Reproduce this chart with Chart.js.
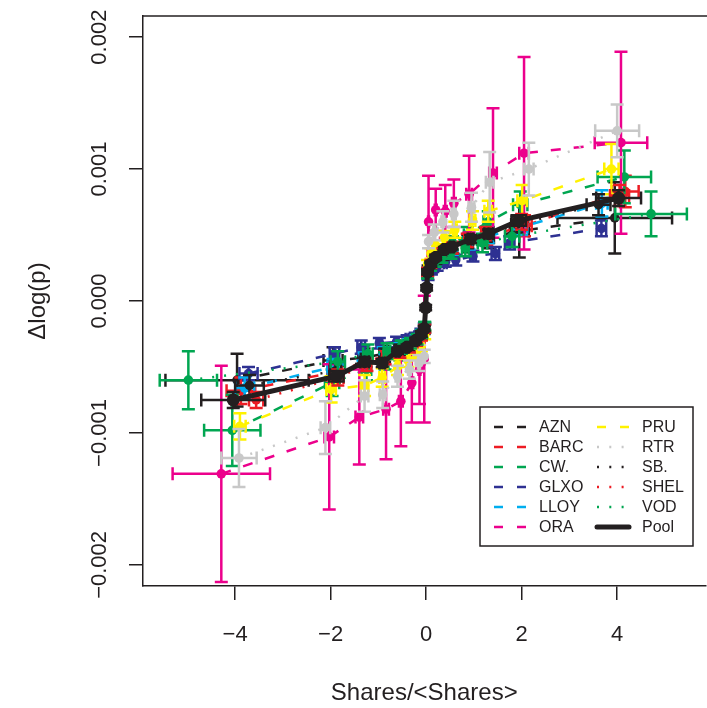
<!DOCTYPE html>
<html>
<head>
<meta charset="utf-8">
<script src="https://cdn.jsdelivr.net/npm/chart.js@4.4.0/dist/chart.umd.min.js"></script>
<style>
  html, body { margin: 0; padding: 0; background: #fff; overflow: hidden; }
  /* plot box runs past the right edge of the window, as in the cropped original */
  #chart { display: block; }
</style>
</head>
<body>
<canvas id="chart" width="712" height="708"></canvas>
<script>
// values: x = Shares/<Shares>, y = dlog(p), xe/ye = half error bars
const AZN_x  = [-3.96,-1.95,-1.3,-0.9,-0.58,-0.38,-0.22,-0.11,-0.04,0.04,0.11,0.22,0.38,0.58,0.9,1.3,1.95,3.95];
const AZN_y  = [-0.0006,-0.00045,-0.00043,-0.0004,-0.00036,-0.00033,-0.0003,-0.00026,-0.00022,0.00024,0.00028,0.00031,0.00035,0.00038,0.00043,0.00048,0.00053,0.00063];
const AZN_xe = [1.5,0.2,0.12,0.08,0.05,0.04,0.03,0.02,0.01,0.01,0.02,0.03,0.04,0.05,0.08,0.12,0.2,1.2];
const AZN_ye = [0.0002,0.0001,0.00007,0.00006,0.00005,0.00004,0.00004,0.00003,0.00003,0.00003,0.00003,0.00004,0.00004,0.00005,0.00006,0.00008,0.0002,0.00027];

const BARC_x  = [-3.88,-1.92,-1.27,-0.88,-0.56,-0.36,-0.21,-0.1,-0.03,0.03,0.1,0.21,0.36,0.56,0.88,1.27,2.06,4.17];
const BARC_y  = [-0.00068,-0.00054,-0.00046,-0.00042,-0.00038,-0.00034,-0.0003,-0.00026,-0.0002,0.00021,0.00027,0.00032,0.00036,0.0004,0.00045,0.00049,0.00057,0.00083];
const BARC_xe = [0.3,0.15,0.1,0.07,0.05,0.04,0.03,0.02,0.01,0.01,0.02,0.03,0.04,0.05,0.07,0.1,0.15,0.28];
const BARC_ye = [0.0001,0.00008,0.00007,0.00006,0.00005,0.00004,0.00004,0.00003,0.00003,0.00003,0.00003,0.00004,0.00004,0.00005,0.00006,0.00007,0.00008,0.00012];

const CW_x  = [-4.06,-1.97,-1.25,-0.86,-0.55,-0.35,-0.2,-0.1,-0.03,0.03,0.1,0.2,0.35,0.55,0.86,1.3,1.97,4.15];
const CW_y  = [-0.00098,-0.00062,-0.00052,-0.00046,-0.0004,-0.00035,-0.0003,-0.00025,-0.00019,0.0002,0.00027,0.00033,0.00038,0.00044,0.0005,0.0006,0.00073,0.00094];
const CW_xe = [0.59,0.15,0.1,0.07,0.05,0.04,0.03,0.02,0.01,0.01,0.02,0.03,0.04,0.05,0.07,0.1,0.15,0.56];
const CW_ye = [0.00027,0.0001,0.00008,0.00006,0.00005,0.00004,0.00004,0.00003,0.00003,0.00003,0.00003,0.00004,0.00004,0.00005,0.00006,0.00008,0.0001,0.0002];

const GLXO_x  = [-3.72,-1.92,-1.36,-0.98,-0.62,-0.4,-0.23,-0.11,-0.04,0.04,0.11,0.23,0.4,0.62,0.98,1.45,1.75,3.67];
const GLXO_y  = [-0.00055,-0.0004,-0.00035,-0.00032,-0.00031,-0.00029,-0.00027,-0.00024,-0.0002,0.00019,0.00023,0.00026,0.00029,0.00031,0.00034,0.00036,0.00044,0.00055];
const GLXO_xe = [0.19,0.1,0.08,0.06,0.04,0.03,0.02,0.01,0.01,0.01,0.01,0.02,0.03,0.04,0.06,0.08,0.1,0.1];
const GLXO_ye = [0.00005,0.00005,0.00005,0.00004,0.00004,0.00003,0.00003,0.00003,0.00003,0.00003,0.00003,0.00003,0.00003,0.00004,0.00004,0.00005,0.00005,0.00006];

const LLOY_x  = [-3.8,-1.95,-1.3,-0.9,-0.57,-0.37,-0.21,-0.1,-0.03,0.03,0.1,0.21,0.37,0.57,0.9,1.3,2.0,3.68];
const LLOY_y  = [-0.00066,-0.0005,-0.00044,-0.0004,-0.00036,-0.00033,-0.00029,-0.00025,-0.0002,0.00022,0.00027,0.00031,0.00035,0.00039,0.00044,0.00049,0.00056,0.00074];
const LLOY_xe = [0.2,0.12,0.09,0.06,0.04,0.03,0.02,0.01,0.01,0.01,0.01,0.02,0.03,0.04,0.06,0.09,0.12,0.12];
const LLOY_ye = [0.00008,0.00006,0.00005,0.00005,0.00004,0.00004,0.00003,0.00003,0.00003,0.00003,0.00003,0.00003,0.00004,0.00004,0.00005,0.00005,0.00006,0.0001];

const ORA_x  = [-4.29,-2.03,-1.4,-0.84,-0.53,-0.3,-0.14,-0.04,0.05,0.2,0.4,0.58,0.9,1.4,2.05,4.08];
const ORA_y  = [-0.00131,-0.00103,-0.00088,-0.00082,-0.00076,-0.00062,-0.00052,-0.00044,0.0006,0.00069,0.00068,0.00074,0.00081,0.00097,0.00112,0.0012];
const ORA_xe = [1.02,0.1,0.08,0.06,0.04,0.03,0.02,0.01,0.01,0.02,0.03,0.04,0.06,0.08,0.1,0.55];
const ORA_ye = [0.00082,0.00055,0.00036,0.00038,0.00034,0.0003,0.00026,0.00048,0.00035,0.00016,0.0002,0.00018,0.00029,0.00049,0.00073,0.00069];

const PRU_x  = [-3.9,-1.99,-1.29,-0.92,-0.6,-0.38,-0.2,-0.1,-0.03,0.03,0.1,0.2,0.38,0.6,0.97,1.3,2.01,3.88];
const PRU_y  = [-0.00095,-0.00067,-0.00064,-0.00058,-0.0005,-0.00045,-0.0004,-0.00034,-0.00026,0.00028,0.00036,0.00042,0.00048,0.00054,0.00061,0.00068,0.00076,0.001];
const PRU_xe = [0.12,0.1,0.08,0.06,0.04,0.03,0.02,0.01,0.01,0.01,0.01,0.02,0.03,0.04,0.06,0.08,0.1,0.15];
const PRU_ye = [0.0001,0.0001,0.00008,0.00007,0.00006,0.00005,0.00004,0.00004,0.00003,0.00003,0.00004,0.00004,0.00005,0.00006,0.00007,0.00008,0.00012,0.00019];

const RTR_x  = [-3.92,-2.11,-1.29,-0.91,-0.6,-0.35,-0.15,-0.04,0.05,0.17,0.35,0.58,0.95,1.33,2.15,4.0];
const RTR_y  = [-0.00119,-0.00096,-0.00072,-0.00071,-0.00057,-0.00052,-0.00047,-0.00042,0.00045,0.00052,0.0006,0.00066,0.00071,0.0009,0.001,0.00129];
const RTR_xe = [0.37,0.1,0.08,0.06,0.04,0.03,0.02,0.01,0.01,0.02,0.03,0.04,0.06,0.08,0.1,0.46];
const RTR_ye = [0.00022,0.0002,0.00012,0.0001,0.00008,0.00007,0.00006,0.00005,0.00005,0.00006,0.00008,0.0001,0.00011,0.00023,0.0002,0.0002];

const SB_x  = [-3.7,-1.9,-1.26,-0.87,-0.56,-0.36,-0.21,-0.1,-0.03,0.03,0.1,0.21,0.36,0.56,0.87,1.26,1.9,3.61];
const SB_y  = [-0.00064,-0.00053,-0.00045,-0.00041,-0.00037,-0.00034,-0.0003,-0.00026,-0.00021,0.00022,0.00027,0.00031,0.00035,0.0004,0.00045,0.0005,0.00058,0.00073];
const SB_xe = [0.3,0.12,0.09,0.06,0.04,0.03,0.02,0.01,0.01,0.01,0.01,0.02,0.03,0.04,0.06,0.09,0.12,0.25];
const SB_ye = [0.00008,0.00006,0.00005,0.00005,0.00004,0.00004,0.00003,0.00003,0.00003,0.00003,0.00003,0.00003,0.00004,0.00004,0.00005,0.00005,0.00006,0.00008];

const SHEL_x  = [-3.56,-1.85,-1.24,-0.86,-0.55,-0.35,-0.2,-0.1,-0.03,0.03,0.1,0.2,0.35,0.55,0.86,1.24,2.0,4.05];
const SHEL_y  = [-0.00075,-0.00058,-0.00048,-0.00043,-0.00039,-0.00035,-0.00031,-0.00027,-0.00021,0.00022,0.00028,0.00032,0.00036,0.0004,0.00046,0.00051,0.0006,0.0008];
const SHEL_xe = [0.15,0.12,0.09,0.06,0.04,0.03,0.02,0.01,0.01,0.01,0.01,0.02,0.03,0.04,0.06,0.09,0.12,0.2];
const SHEL_ye = [0.00006,0.00006,0.00005,0.00005,0.00004,0.00004,0.00003,0.00003,0.00003,0.00003,0.00003,0.00003,0.00004,0.00004,0.00005,0.00005,0.00006,0.00008];

const VOD_x  = [-4.98,-1.85,-1.22,-0.82,-0.52,-0.33,-0.19,-0.09,-0.03,0.03,0.09,0.19,0.33,0.52,0.82,1.18,1.8,4.71];
const VOD_y  = [-0.0006,-0.00046,-0.0004,-0.00038,-0.00035,-0.00032,-0.00029,-0.00025,-0.00019,0.0002,0.00026,0.0003,0.00033,0.00037,0.0004,0.00044,0.00049,0.00066];
const VOD_xe = [0.6,0.15,0.1,0.07,0.05,0.04,0.03,0.02,0.01,0.01,0.02,0.03,0.04,0.05,0.07,0.1,0.15,0.75];
const VOD_ye = [0.00022,0.00008,0.00007,0.00006,0.00005,0.00004,0.00004,0.00003,0.00003,0.00003,0.00003,0.00004,0.00004,0.00005,0.00006,0.00007,0.00008,0.00017];

const Pool_x  = [-4.04,-1.88,-1.29,-0.92,-0.6,-0.4,-0.22,-0.1,-0.04,-0.01,0.01,0.03,0.1,0.2,0.38,0.54,0.93,1.31,1.94,4.03];
const Pool_y  = [-0.00075,-0.00057,-0.00046,-0.00047,-0.00038,-0.00035,-0.0003,-0.00025,-0.00021,-0.00005,0.0001,0.00022,0.00028,0.00033,0.00039,0.00041,0.00047,0.00051,0.00061,0.00078];
const Pool_xe = [0.67,0.15,0.09,0.06,0.04,0.03,0.02,0.01,0.01,0.005,0.005,0.01,0.01,0.02,0.03,0.04,0.06,0.09,0.15,0.47];
const Pool_ye = [0.00006,0.00004,0.00003,0.00003,0.00002,0.00002,0.00002,0.00002,0.00002,0.00002,0.00002,0.00002,0.00002,0.00002,0.00002,0.00002,0.00003,0.00003,0.00004,0.00006];

const seriesNames = ['AZN', 'BARC', 'CW.', 'GLXO', 'LLOY', 'ORA', 'PRU', 'RTR', 'SB.', 'SHEL', 'VOD', 'Pool'];
const seriesData = [
  [AZN_x, AZN_y, AZN_xe, AZN_ye],
  [BARC_x, BARC_y, BARC_xe, BARC_ye],
  [CW_x, CW_y, CW_xe, CW_ye],
  [GLXO_x, GLXO_y, GLXO_xe, GLXO_ye],
  [LLOY_x, LLOY_y, LLOY_xe, LLOY_ye],
  [ORA_x, ORA_y, ORA_xe, ORA_ye],
  [PRU_x, PRU_y, PRU_xe, PRU_ye],
  [RTR_x, RTR_y, RTR_xe, RTR_ye],
  [SB_x, SB_y, SB_xe, SB_ye],
  [SHEL_x, SHEL_y, SHEL_xe, SHEL_ye],
  [VOD_x, VOD_y, VOD_xe, VOD_ye],
  [Pool_x, Pool_y, Pool_xe, Pool_ye]
];
const xTicks = [-4, -2, 0, 2, 4];
const yTicks = [-0.002, -0.001, 0, 0.001, 0.002];
const yTickLabels = ['\u22120.002', '\u22120.001', '0.000', '0.001', '0.002'];

// styles
const seriesColor = ['#231F20', '#ED1C24', '#00A651', '#2E3192', '#00AEEF', '#EC008C',
                     '#FFF200', '#C8C8C8', '#231F20', '#ED1C24', '#00A651', '#231F20'];
const seriesLty = ['dash', 'dash', 'dash', 'dash', 'dash', 'dash',
                   'dash', 'dot', 'dot', 'dot', 'dot', 'solid'];
const DASH = [10, 13];
const DOT = [2, 10];
const INK = '#231F20';
const FONT = "'Liberation Sans', Arial, Helvetica, sans-serif";

Chart.defaults.font.family = FONT;

const datasets = seriesData.map((s, i) => {
  const pool = seriesNames[i] === 'Pool';
  return {
    label: seriesNames[i],
    data: s[0].map((x, k) => ({ x: x, y: s[1][k], xe: s[2][k], ye: s[3][k] })),
    showLine: true,
    borderColor: seriesColor[i],
    backgroundColor: seriesColor[i],
    borderWidth: pool ? 5 : 2.5,
    borderDash: seriesLty[i] === 'dash' ? DASH : seriesLty[i] === 'dot' ? DOT : [],
    pointRadius: pool ? 6.5 : 4.8,
    pointBorderWidth: 0,
    pointBackgroundColor: seriesColor[i],
    order: seriesNames.length - i
  };
});

// error bars with flat caps, drawn under each series' points
const errorBars = {
  id: 'errorBars',
  beforeDatasetDraw(chart, args) {
    const ds = chart.data.datasets[args.index];
    const { ctx, chartArea: a, scales: { x, y } } = chart;
    const cap = 6.5;
    ctx.save();
    ctx.beginPath();
    ctx.rect(a.left, a.top, a.right - a.left, a.bottom - a.top);
    ctx.clip();
    ctx.strokeStyle = ds.borderColor;
    ctx.lineWidth = 2.5;
    ctx.setLineDash([]);
    ctx.beginPath();
    ds.data.forEach(p => {
      const px = x.getPixelForValue(p.x), py = y.getPixelForValue(p.y);
      const xl = x.getPixelForValue(p.x - p.xe), xr = x.getPixelForValue(p.x + p.xe);
      const yb = y.getPixelForValue(p.y - p.ye), yt = y.getPixelForValue(p.y + p.ye);
      ctx.moveTo(xl, py); ctx.lineTo(xr, py);
      ctx.moveTo(xl, py - cap); ctx.lineTo(xl, py + cap);
      ctx.moveTo(xr, py - cap); ctx.lineTo(xr, py + cap);
      ctx.moveTo(px, yb); ctx.lineTo(px, yt);
      ctx.moveTo(px - cap, yb); ctx.lineTo(px + cap, yb);
      ctx.moveTo(px - cap, yt); ctx.lineTo(px + cap, yt);
    });
    ctx.stroke();
    ctx.restore();
  }
};

// top frame line, rotated y labels and the two-column legend
const frameAndLegend = {
  id: 'frameAndLegend',
  afterDraw(chart) {
    const { ctx, chartArea: a, scales: { y } } = chart;
    ctx.save();
    ctx.strokeStyle = INK;
    ctx.lineWidth = 1.5;
    ctx.beginPath();
    ctx.moveTo(a.left, a.top);
    ctx.lineTo(chart.width, a.top);
    ctx.stroke();

    ctx.fillStyle = INK;
    ctx.font = '22px ' + FONT;
    ctx.textAlign = 'center';
    ctx.textBaseline = 'middle';
    yTicks.forEach((v, i) => {
      ctx.save();
      ctx.translate(100, y.getPixelForValue(v));
      ctx.rotate(-Math.PI / 2);
      ctx.fillText(yTickLabels[i], 0, 0);
      ctx.restore();
    });

    // legend
    const L = 480, T = 407, R = 693, B = 546;
    ctx.fillStyle = '#fff';
    ctx.fillRect(L, T, R - L, B - T);
    ctx.strokeStyle = INK;
    ctx.lineWidth = 1.5;
    ctx.strokeRect(L, T, R - L, B - T);
    ctx.font = '16px ' + FONT;
    ctx.textAlign = 'left';
    seriesNames.forEach((name, i) => {
      const col = i < 6 ? 0 : 1, row = i % 6;
      const ly = 427 + row * 20;
      const x0 = col === 0 ? 494 : 597;
      const pool = name === 'Pool';
      ctx.strokeStyle = seriesColor[i];
      ctx.lineWidth = pool ? 5 : 2.5;
      ctx.lineCap = pool ? 'round' : 'butt';
      ctx.setLineDash(seriesLty[i] === 'dash' ? [9, 14] : seriesLty[i] === 'dot' ? [2, 10.3] : []);
      ctx.beginPath();
      ctx.moveTo(x0, ly);
      ctx.lineTo(x0 + 32, ly);
      ctx.stroke();
      ctx.fillStyle = INK;
      ctx.fillText(name, col === 0 ? 539 : 642, ly + 1);
    });
    ctx.restore();
  }
};

new Chart(document.getElementById('chart'), {
  type: 'scatter',
  data: { datasets: datasets },
  plugins: [errorBars, frameAndLegend],
  options: {
    responsive: false,
    animation: false,
    layout: { padding: { top: 16, right: 0, left: 0, bottom: 0 } },
    plugins: { legend: { display: false }, tooltip: { enabled: false } },
    scales: {
      x: {
        type: 'linear',
        bounds: 'data',
        min: -5.93,
        max: 5.85,
        afterBuildTicks: s => { s.ticks = xTicks.map(v => ({ value: v })); },
        afterFit: s => { s.height = 122; s.paddingLeft = 0; s.paddingRight = 0; },
        grid: { drawOnChartArea: false, drawTicks: true, tickLength: 14, color: INK, lineWidth: 1.5 },
        border: { display: true, color: INK, width: 1.5 },
        ticks: {
          color: INK,
          font: { size: 22 },
          padding: 22,
          callback: v => v < 0 ? '\u2212' + Math.abs(v) : String(v)
        },
        title: { display: true, text: 'Shares/<Shares>', color: INK, font: { size: 24 }, padding: { top: 0, bottom: 0 } }
      },
      y: {
        type: 'linear',
        bounds: 'data',
        min: -0.00216,
        max: 0.00216,
        afterBuildTicks: s => { s.ticks = yTicks.map(v => ({ value: v })); },
        afterFit: s => { s.width = 143; s.paddingTop = 0; s.paddingBottom = 0; },
        grid: { drawOnChartArea: false, drawTicks: true, tickLength: 14, color: INK, lineWidth: 1.5 },
        border: { display: true, color: INK, width: 1.5 },
        ticks: { display: false },
        title: { display: true, text: '\u0394log(p)', color: INK, font: { size: 24 }, padding: { top: 24, bottom: 0 } }
      }
    }
  }
});
</script>
</body>
</html>
